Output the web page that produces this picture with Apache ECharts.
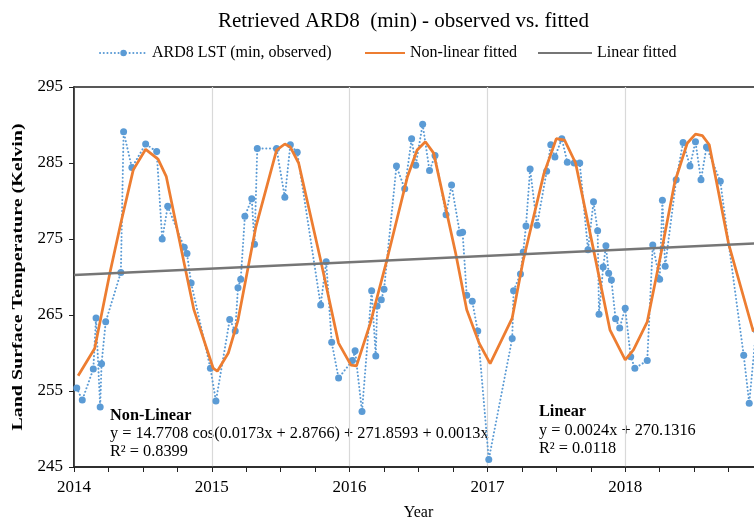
<!DOCTYPE html>
<html><head><meta charset="utf-8">
<script src="https://cdn.jsdelivr.net/npm/echarts@6/dist/echarts.min.js"></script>
<style>html,body{margin:0;padding:0;background:#fff}#c{width:754px;height:520px}</style>
</head><body><div id="c"></div>
<script>
// Observed ARD8 LST (min) — decimal year / Kelvin
const obsX = [2014.02,2014.06,2014.14,2014.16,2014.19,2014.20,2014.23,2014.34,2014.36,2014.42,2014.52,2014.60,2014.64,2014.68,2014.80,2014.82,2014.85,2014.99,
2015.03,2015.13,2015.17,2015.19,2015.21,2015.24,2015.29,2015.31,2015.33,2015.47,2015.53,2015.57,2015.62,2015.79,2015.83,2015.87,2015.92,
2016.02,2016.04,2016.09,2016.16,2016.19,2016.20,2016.23,2016.25,2016.34,2016.40,2016.45,2016.48,2016.53,2016.58,2016.62,2016.70,2016.74,2016.80,2016.82,2016.85,2016.89,2016.93,
2017.01,2017.18,2017.19,2017.24,2017.26,2017.28,2017.31,2017.36,2017.43,2017.46,2017.49,2017.54,2017.58,2017.63,2017.67,2017.73,2017.77,2017.80,2017.81,2017.84,2017.86,2017.88,2017.90,2017.93,2017.96,
2018.00,2018.04,2018.07,2018.16,2018.20,2018.25,2018.27,2018.29,2018.37,2018.42,2018.47,2018.51,2018.55,2018.59,2018.69,2018.86,2018.90,2018.95];
const obsY = [255.4,253.8,257.9,264.6,252.9,258.6,264.1,270.6,289.1,284.4,287.5,286.5,275.0,279.3,273.9,273.1,269.2,258.0,
253.7,264.4,262.9,268.6,269.7,278.0,280.3,274.3,286.9,286.9,280.5,287.4,286.4,266.3,272.0,261.4,256.7,
259.0,260.3,252.3,268.2,259.6,266.2,267.0,268.4,284.6,281.6,288.2,284.7,290.1,284.0,286.0,278.2,282.1,275.8,275.9,267.6,266.8,262.9,
246.0,261.9,268.2,270.4,273.3,276.7,284.2,276.8,283.9,287.4,285.8,288.2,285.1,285.0,285.0,273.6,279.9,276.1,265.1,271.3,274.1,270.5,269.6,264.5,263.3,
265.9,259.5,258.0,259.0,274.2,269.7,280.1,271.4,282.8,287.7,284.6,287.8,282.8,287.1,282.6,259.7,253.4,263.0];

// Non-linear fitted curve
const fitX = [2014.03,2014.15,2014.26,2014.34,2014.43,2014.52,2014.61,2014.67,2014.81,2014.87,2015.01,2015.04,2015.12,2015.19,2015.32,2015.47,2015.53,2015.57,2015.63,2015.79,2015.92,
2016.01,2016.05,2016.15,2016.27,2016.42,2016.49,2016.55,2016.61,2016.77,2016.85,2016.94,2017.02,2017.18,2017.26,2017.41,2017.50,2017.56,2017.64,2017.77,2017.89,
2018.00,2018.06,2018.16,2018.27,2018.36,2018.45,2018.51,2018.56,2018.61,2018.75,2018.93];
const fitY = [257.0,260.6,270.5,277.1,284.1,286.8,285.5,283.2,270.9,265.7,258.0,257.6,260.0,264.3,276.6,286.7,287.5,287.1,285.0,272.2,261.3,
258.4,258.3,263.9,272.2,283.2,286.7,287.8,286.3,273.1,265.7,261.3,258.6,264.6,272.2,283.6,288.2,288.0,285.0,273.6,263.0,
259.1,260.4,264.1,274.0,282.5,287.6,288.8,288.6,287.4,274.4,262.8];

// Linear fitted
const linX = [2014, 2019];
const linY = [270.25, 274.45];

const yTicks = [245, 255, 265, 275, 285, 295];
const xYears = [2014, 2015, 2016, 2017, 2018, 2019];

const zip = (a, b) => a.map((v, i) => [v, b[i]]);
const FF = '"Liberation Serif","Times New Roman",serif';

const chart = echarts.init(document.getElementById('c'), null, {renderer: 'canvas'});
chart.setOption({
  animation: false,
  backgroundColor: '#fff',
  textStyle: {fontFamily: FF, color: '#000'},
  title: {
    text: 'Retrieved ARD8  (min) - observed vs. fitted',
    left: 213, top: 6,
    textStyle: {fontFamily: FF, fontSize: 21, fontWeight: 'normal', color: '#000'}
  },
  legend: [
    {data: ['ARD8 LST (min, observed)'], left: 99, top: 45, padding: 0, itemWidth: 47, itemHeight: 8,
     textStyle: {fontFamily: FF, fontSize: 16, color: '#000'}},
    {data: ['Non-linear fitted'], left: 364, top: 45, padding: 0, itemWidth: 40, itemHeight: 8,
     itemStyle: {opacity: 0},
     textStyle: {fontFamily: FF, fontSize: 16, color: '#000'}},
    {data: ['Linear fitted'], left: 537, top: 45, padding: 0, itemWidth: 54, itemHeight: 8,
     itemStyle: {opacity: 0},
     textStyle: {fontFamily: FF, fontSize: 16, color: '#000'}}
  ],
  grid: {left: 74, right: -9, top: 87, bottom: 53, outerBoundsMode: 'none', containLabel: false,
         show: true, borderColor: '#222', borderWidth: 1.5, backgroundColor: 'transparent'},
  xAxis: [
    {type: 'value', min: xYears[0], max: xYears[xYears.length - 1], interval: 1,
     name: 'Year', nameLocation: 'middle', nameGap: 38,
     nameTextStyle: {fontFamily: FF, fontSize: 16, color: '#000'},
     axisLine: {show: true, lineStyle: {color: '#222', width: 1.5}},
     axisTick: {show: false},
     axisLabel: {fontFamily: FF, fontSize: 17, color: '#000', margin: 12, showMaxLabel: false,
                 formatter: v => (v >= xYears[xYears.length - 1] ? '' : String(Math.round(v)))},
     splitLine: {show: true, lineStyle: {color: '#d9d9d9', width: 1.2}}},
    {type: 'value', min: xYears[0], max: xYears[xYears.length - 1], interval: 0.25, position: 'bottom',
     axisLine: {show: false}, axisLabel: {show: false}, splitLine: {show: false},
     axisTick: {show: true, inside: false, length: 5, lineStyle: {color: '#222', width: 1}}}
  ],
  yAxis: {
    type: 'value', min: yTicks[0], max: yTicks[yTicks.length - 1], interval: 10,
    axisLine: {show: true, lineStyle: {color: '#222', width: 1.5}},
    axisTick: {show: true, length: 5, lineStyle: {color: '#222'}},
    axisLabel: {fontFamily: FF, fontSize: 17, color: '#000', margin: 11},
    splitLine: {show: false}
  },
  series: [
    {name: 'ARD8 LST (min, observed)', type: 'line', xAxisIndex: 0, data: zip(obsX, obsY),
     symbol: 'circle', symbolSize: 7, z: 3,
     itemStyle: {color: '#5B9BD5'},
     lineStyle: {color: '#5B9BD5', width: 2, type: [0.1, 3.6], cap: 'round'}},
    {name: 'Non-linear fitted', type: 'line', xAxisIndex: 0, data: zip(fitX, fitY),
     symbol: 'none', z: 4,
     lineStyle: {color: '#ED7D31', width: 2.75}, itemStyle: {color: '#ED7D31'}},
    {name: 'Linear fitted', type: 'line', xAxisIndex: 0, data: zip(linX, linY),
     symbol: 'none', z: 5,
     lineStyle: {color: '#767676', width: 2.5}, itemStyle: {color: '#767676'}}
  ],
  graphic: [
    {type: 'text', x: 18, y: 277, rotation: Math.PI / 2, scaleY: 0.78,
     style: {text: 'Land Surface Temperature (Kelvin)', font: 'bold 20px ' + FF, fill: '#000', align: 'center', verticalAlign: 'middle'}},
    {type: 'text', left: 110, top: 408, style: {text: 'Non-Linear', font: 'bold 16.3px ' + FF, fill: '#000'}},
    {type: 'text', left: 110, top: 426, style: {text: 'y = 14.7708 cos(0.0173x + 2.8766) + 271.8593 + 0.0013x', font: '16.3px ' + FF, fill: '#000'}},
    {type: 'text', left: 110, top: 444, style: {text: 'R² = 0.8399', font: '16.3px ' + FF, fill: '#000'}},
    {type: 'text', left: 539, top: 404, style: {text: 'Linear', font: 'bold 16.3px ' + FF, fill: '#000'}},
    {type: 'text', left: 539, top: 423, style: {text: 'y = 0.0024x + 270.1316', font: '16.3px ' + FF, fill: '#000'}},
    {type: 'text', left: 539, top: 441, style: {text: 'R² = 0.0118', font: '16.3px ' + FF, fill: '#000'}}
  ]
});
</script></body></html>
